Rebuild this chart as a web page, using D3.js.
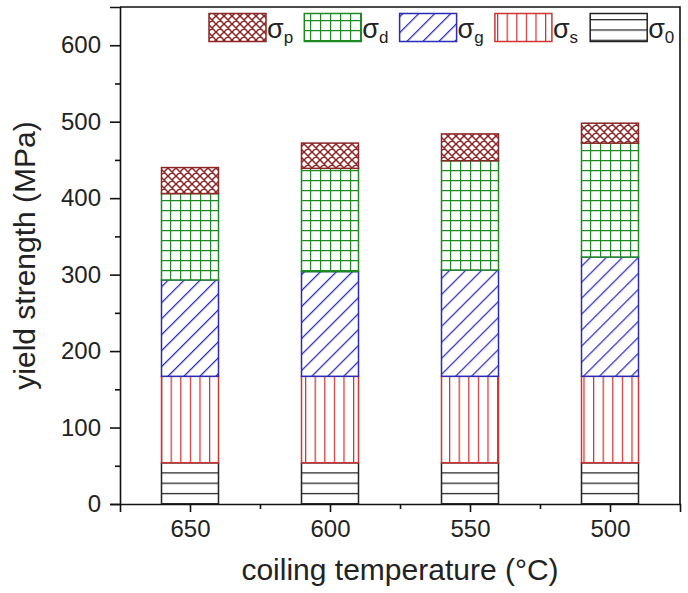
<!DOCTYPE html>
<html>
<head>
<meta charset="utf-8">
<script src="https://cdn.jsdelivr.net/npm/d3@7"></script>
<style>
  html, body { margin: 0; padding: 0; background: #fff; }
  svg { display: block; font-family: "Liberation Sans", Arial, sans-serif; }
</style>
</head>
<body>
<svg id="chart" width="688" height="593"></svg>
<script>
// ---- data ----
const categories = ["650", "600", "550", "500"];
const sigma0 = [54, 54, 54, 54];
const sigmaS = [113, 113, 113, 113];
const sigmaG = [126, 137, 139, 156];
const sigmaD = [113, 135, 143, 149];
const sigmaP = [34, 33, 35, 26];
const yMajorTicks = [0, 100, 200, 300, 400, 500, 600];
const yMinorTicks = [50, 150, 250, 350, 450, 550];
const seriesKeys = ["s0", "ss", "sg", "sd", "sp"];        // stacking order, bottom to top
const legendOrder = ["sp", "sd", "sg", "ss", "s0"];       // legend, left to right
const legendSubs = { sp: "p", sd: "d", sg: "g", ss: "s", s0: "0" };
const xTitle = "coiling temperature (°C)";
const yTitle = "yield strength (MPa)";

// ---- styling ----
const colors = { sp: "#8c2525", sd: "#1f8a24", sg: "#2b2bb5", ss: "#d03434", s0: "#222222" };

const svg = d3.select("#chart");
const W = 688, H = 593;
svg.append("rect").attr("width", W).attr("height", H).attr("fill", "#fff");

const plot = { left: 120, right: 680, top: 7, bottom: 504 };

const x = d3.scaleLinear().domain([0.5, categories.length + 0.5]).range([plot.left, plot.right]);
const y = d3.scaleLinear().domain([0, 650]).range([plot.bottom, plot.top]);
const barW = 57 / 140; // fraction of category spacing

// ---- patterns ----
const defs = svg.append("defs");
function pat(id, w, h, transform) {
  const p = defs.append("pattern").attr("id", id).attr("patternUnits", "userSpaceOnUse")
    .attr("width", w).attr("height", h);
  if (transform) p.attr("patternTransform", transform);
  p.append("rect").attr("width", w).attr("height", h).attr("fill", "#fff");
  return p;
}
// crosshatch (sigma p)
{
  const p = pat("pat-sp", 8, 8);
  p.append("path").attr("d", "M0,0 L8,8 M8,0 L0,8 M-1,7 L1,9 M7,-1 L9,1 M-1,1 L1,-1 M7,9 L9,7")
    .attr("stroke", colors.sp).attr("stroke-width", 1.5).attr("fill", "none");
}
// grid (sigma d)
{
  const p = pat("pat-sd", 10, 10);
  p.append("path").attr("d", "M0.5,0 V10 M0,0.5 H10")
    .attr("stroke", colors.sd).attr("stroke-width", 1.4).attr("fill", "none");
}
// diagonal "/" (sigma g)
{
  const p = pat("pat-sg", 11.3, 10, "rotate(45)");
  p.append("path").attr("d", "M0.6,0 V10")
    .attr("stroke", colors.sg).attr("stroke-width", 1.3).attr("fill", "none");
}
// vertical (sigma s)
{
  const p = pat("pat-ss", 9.6, 10, "translate(161,0)");
  p.append("path").attr("d", "M0.6,0 V10")
    .attr("stroke", colors.ss).attr("stroke-width", 1.3).attr("fill", "none");
}
// horizontal (sigma 0)
{
  const p = pat("pat-s0", 10, 10.3, "translate(0,462)");
  p.append("path").attr("d", "M0,0.6 H10")
    .attr("stroke", colors.s0).attr("stroke-width", 1.3).attr("fill", "none");
}

// ---- stacked bars ----
const rows = categories.map((c, i) => ({
  idx: i + 1, s0: sigma0[i], ss: sigmaS[i], sg: sigmaG[i], sd: sigmaD[i], sp: sigmaP[i]
}));
const stacked = d3.stack().keys(seriesKeys)(rows);

const gBars = svg.append("g");
stacked.forEach(layer => {
  gBars.append("g").selectAll("rect").data(layer).join("rect")
    .attr("x", d => x(d.data.idx - barW / 2))
    .attr("width", d => x(d.data.idx + barW / 2) - x(d.data.idx - barW / 2))
    .attr("y", d => y(d[1]))
    .attr("height", d => y(d[0]) - y(d[1]))
    .attr("fill", `url(#pat-${layer.key})`)
    .attr("stroke", colors[layer.key])
    .attr("stroke-width", 1.5);
});

// ---- frame (top & right) ----
svg.append("path")
  .attr("d", `M${plot.left},${plot.top} H${plot.right} V${plot.bottom}`)
  .attr("fill", "none").attr("stroke", "#111").attr("stroke-width", 1.6);

// ---- axes ----
const axisColor = "#111";
const yAxis = svg.append("g").attr("transform", `translate(${plot.left},0)`)
  .call(d3.axisLeft(y).tickValues(yMajorTicks).tickSize(10).tickPadding(9).tickFormat(d3.format("d")));
svg.append("g").attr("transform", `translate(${plot.left},0)`)
  .call(d3.axisLeft(y).tickValues(yMinorTicks).tickSize(5).tickFormat(""))
  .call(g => g.select(".domain").remove());

const xAxis = svg.append("g").attr("transform", `translate(0,${plot.bottom})`)
  .call(d3.axisBottom(x).tickValues(categories.map((c, i) => i + 1)).tickSize(8).tickPadding(8)
    .tickFormat(d => categories[d - 1]));
svg.append("g").attr("transform", `translate(0,${plot.bottom})`)
  .call(d3.axisBottom(x).tickValues(categories.slice(1).map((c, i) => i + 1.5)).tickSize(5).tickFormat(""))
  .call(g => g.select(".domain").remove());

svg.selectAll(".domain").attr("stroke", axisColor).attr("stroke-width", 1.6);
svg.selectAll(".tick line").attr("stroke", axisColor).attr("stroke-width", 1.6);
svg.selectAll(".tick text").attr("fill", "#222").attr("font-size", 24)
  .attr("font-family", '"Liberation Sans", Arial, sans-serif');
xAxis.selectAll(".tick text").attr("dy", "0.71em");

// ---- titles ----
svg.append("text")
  .attr("x", (plot.left + plot.right) / 2).attr("y", 580)
  .attr("text-anchor", "middle").attr("font-size", 30).attr("fill", "#222")
  .text(xTitle);
svg.append("text")
  .attr("transform", `translate(35,${(plot.top + plot.bottom) / 2}) rotate(-90)`)
  .attr("text-anchor", "middle").attr("font-size", 30).attr("fill", "#222")
  .text(yTitle);

// ---- legend ----
const legend = svg.append("g");
const legX0 = 209, legStep = 95.3, legY = 13.5, boxW = 57, boxH = 28;
legendOrder.forEach((k, i) => {
  const lx = legX0 + i * legStep;
  legend.append("rect").attr("x", lx).attr("y", legY).attr("width", boxW).attr("height", boxH)
    .attr("fill", `url(#pat-${k})`).attr("stroke", colors[k]).attr("stroke-width", 1.5);
  const t = legend.append("text").attr("x", lx + boxW + 1).attr("y", 38)
    .attr("fill", "#222").attr("font-size", 27);
  t.append("tspan").text("σ");
  t.append("tspan").attr("font-size", 17).attr("dy", 5).text(legendSubs[k]);
});
</script>
</body>
</html>
